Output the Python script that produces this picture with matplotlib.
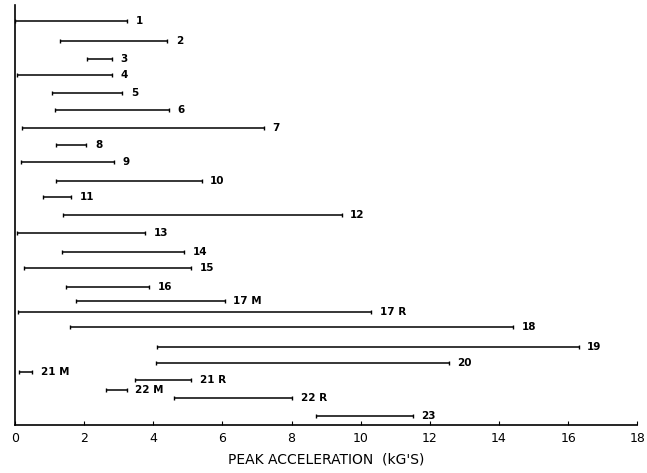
import numpy as np
import matplotlib.pyplot as plt

# test labels, lower / upper peak acceleration (kG's)
labels = ['1', '2', '3', '4', '5', '6', '7', '8', '9', '10', '11', '12', '13',
          '14', '15', '16', '17 M', '17 R', '18', '19', '20', '21 M', '21 R',
          '22 M', '22 R', '23']
low = [0.0, 1.3, 2.1, 0.05, 1.08, 1.15, 0.2, 1.2, 0.17, 1.2, 0.8, 1.4, 0.05,
       1.37, 0.26, 1.48, 1.78, 0.1, 1.58, 4.1, 4.07, 0.12, 3.47, 2.63, 4.6, 8.7]
high = [3.25, 4.4, 2.8, 2.8, 3.1, 4.45, 7.2, 2.07, 2.87, 5.4, 1.63, 9.45, 3.77,
        4.9, 5.1, 3.87, 6.07, 10.3, 14.4, 16.3, 12.55, 0.5, 5.1, 3.23, 8.02, 11.5]
# row positions (M/R rows are staggered in the original)
rows = [1, 2.14, 3.16, 4.07, 5.1, 6.06, 7.08, 8.05, 9.01, 10.1, 11.0, 12.03, 13.05,
        14.1, 15.0, 16.1, 16.9, 17.5, 18.4, 19.5, 20.4, 20.9, 21.4, 21.95, 22.4, 23.4]
xticks = [0, 2, 4, 6, 8, 10, 12, 14, 16, 18]

plt.rcParams['font.family'] = ['DejaVu Sans']

fig = plt.figure(figsize=(6.47, 4.73), dpi=100)
ax = fig.add_axes([0.023, 0.101, 0.962, 0.888])

ax.hlines(rows, low, high, color='black', lw=1.1)
ax.plot(low, rows, '|', color='black', ms=3, mew=1)
ax.plot(high, rows, '|', color='black', ms=3, mew=1)

for lab, x, y in zip(labels, high, rows):
    ax.text(x + 0.25, y, lab, ha='left', va='center', fontsize=7.5,
            fontweight='bold')

ax.set_xlim(0, 18)
ax.set_ylim(23.95, 0.1)
ax.set_xticks(xticks)
ax.set_xticklabels([str(t) for t in xticks], fontsize=9)
ax.set_yticks([])
ax.tick_params(axis='x', direction='in', length=3, pad=5)
ax.spines['top'].set_visible(False)
ax.spines['right'].set_visible(False)
ax.spines['left'].set_linewidth(1.2)
ax.spines['bottom'].set_linewidth(1.2)
ax.set_xlabel("PEAK ACCELERATION  (kG'S)", fontsize=10, labelpad=5)

fig.savefig('out.png', dpi=100)
